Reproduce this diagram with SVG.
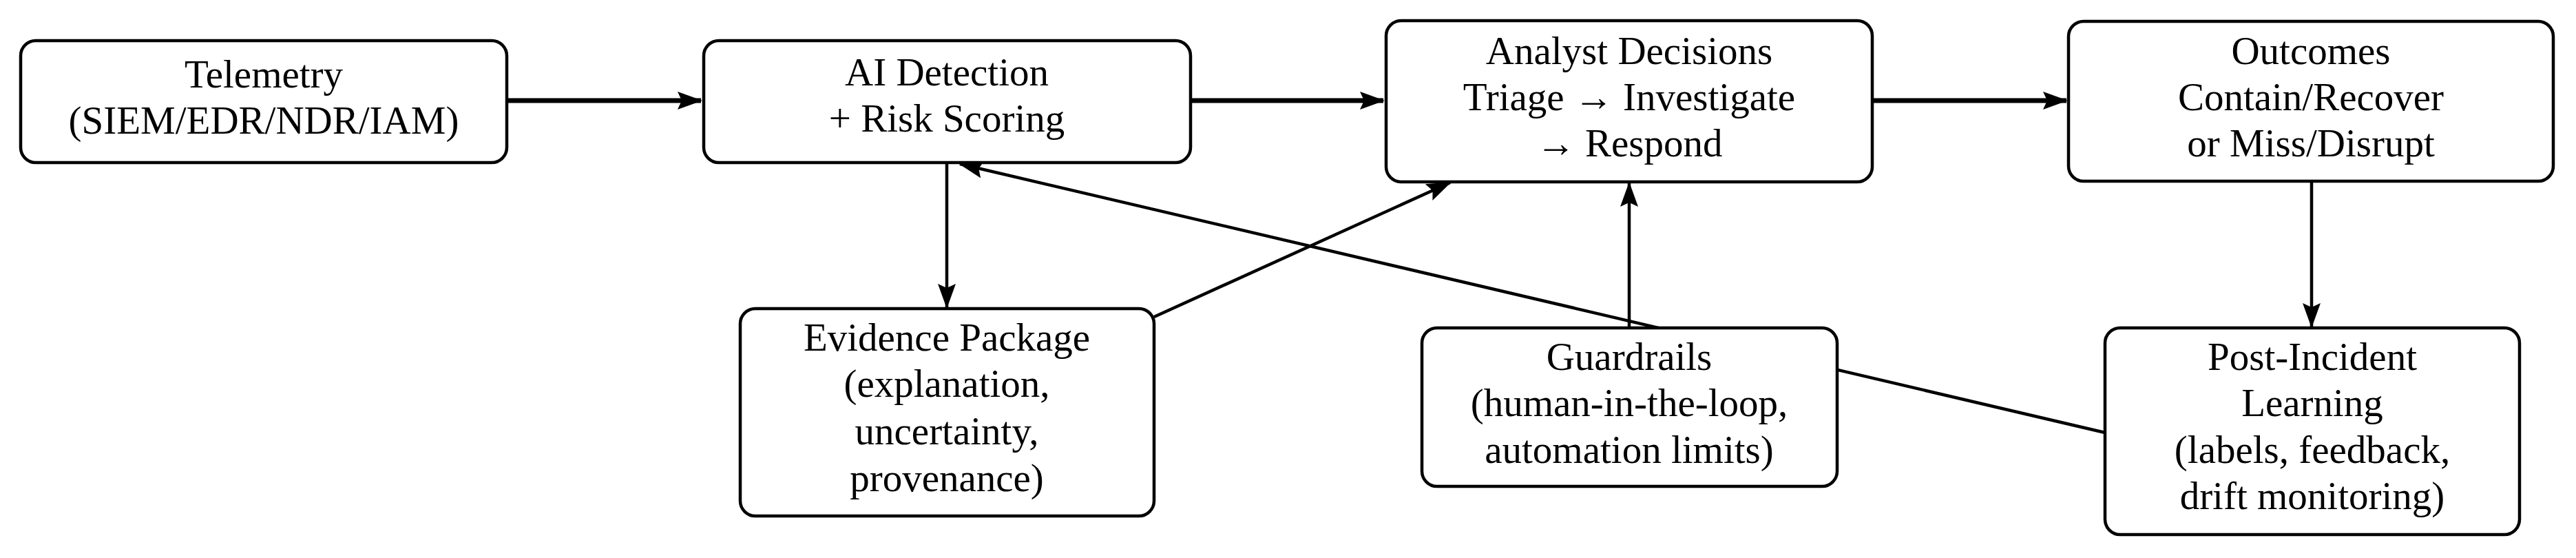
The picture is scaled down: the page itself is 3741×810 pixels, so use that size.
<svg xmlns="http://www.w3.org/2000/svg" width="3741" height="810" viewBox="0 0 3741 810">
<style>
.box{fill:#fff;stroke:#000;stroke-width:4.5}
text{font-family:"Liberation Serif",serif;font-size:57px;text-anchor:middle;fill:#000}
.c{stroke:#000;fill:none}
.t{stroke-width:7}
.n{stroke-width:4.5}
</style>
<defs>
<marker id="a" markerUnits="userSpaceOnUse" markerWidth="40" markerHeight="30" refX="34" refY="13" orient="auto"><path d="M0,0 L36,13 L0,26 L6,13 Z" fill="#000"/></marker>
</defs>
<rect width="3741" height="810" fill="#fff"/>
<g id="connectors">
<line class="c t" x1="736" y1="146" x2="1018" y2="146" marker-end="url(#a)"/>
<line class="c t" x1="1729" y1="146" x2="2009" y2="146" marker-end="url(#a)"/>
<line class="c t" x1="2719" y1="146" x2="3001" y2="146" marker-end="url(#a)"/>
<line class="c n" x1="1375" y1="236" x2="1375" y2="446" marker-end="url(#a)"/>
<line class="c n" x1="3357" y1="264" x2="3357" y2="474" marker-end="url(#a)"/>
<line class="c n" x1="2366" y1="476" x2="2366" y2="266" marker-end="url(#a)"/>
<line class="c n" x1="1676" y1="460" x2="2106" y2="265" marker-end="url(#a)"/>
<line class="c n" x1="3057" y1="628" x2="1394" y2="238" marker-end="url(#a)"/>
</g>
<g id="telemetry"><rect class="box" x="30" y="59" width="706" height="177" rx="22"/>
<text x="383" y="127">Telemetry</text><text x="383" y="194">(SIEM/EDR/NDR/IAM)</text></g>
<g id="ai"><rect class="box" x="1022" y="59" width="707" height="177" rx="22"/>
<text x="1375" y="124">AI Detection</text><text x="1375" y="191">+ Risk Scoring</text></g>
<g id="analyst"><rect class="box" x="2013" y="30" width="706" height="234" rx="22"/>
<text x="2366" y="93">Analyst Decisions</text><text x="2366" y="160">Triage → Investigate</text><text x="2366" y="227">→ Respond</text></g>
<g id="outcomes"><rect class="box" x="3004" y="31" width="704" height="232" rx="22"/>
<text x="3356" y="93">Outcomes</text><text x="3356" y="160">Contain/Recover</text><text x="3356" y="227">or Miss/Disrupt</text></g>
<g id="evidence"><rect class="box" x="1075" y="448" width="601" height="301" rx="22"/>
<text x="1375" y="509">Evidence Package</text><text x="1375" y="576">(explanation,</text><text x="1375" y="645">uncertainty,</text><text x="1375" y="713">provenance)</text></g>
<g id="guardrails"><rect class="box" x="2065" y="476" width="603" height="230" rx="22"/>
<text x="2366" y="537">Guardrails</text><text x="2366" y="604">(human-in-the-loop,</text><text x="2366" y="672">automation limits)</text></g>
<g id="postincident"><rect class="box" x="3057" y="476" width="602" height="300" rx="22"/>
<text x="3358" y="537">Post-Incident</text><text x="3358" y="604">Learning</text><text x="3358" y="672">(labels, feedback,</text><text x="3358" y="739">drift monitoring)</text></g>
</svg>
